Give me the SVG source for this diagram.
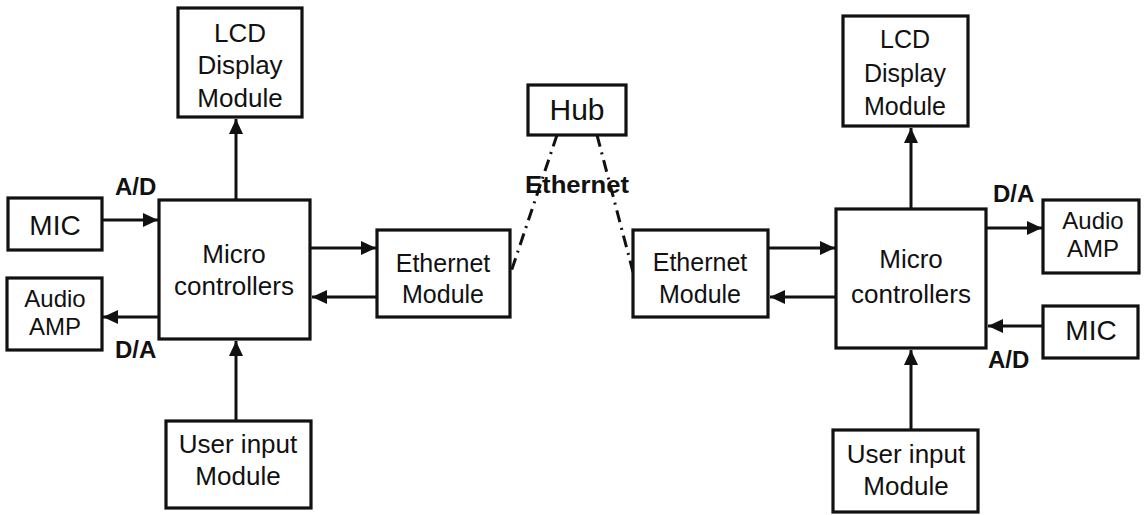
<svg xmlns="http://www.w3.org/2000/svg" width="1144" height="515" viewBox="0 0 1144 515">
  <defs>
    <marker id="arrow" markerUnits="userSpaceOnUse" markerWidth="16" markerHeight="14" refX="15" refY="7" orient="auto">
      <path d="M0,0 L15,7 L0,14 Z" fill="#111"/>
    </marker>
    <style>
      .box { fill: #fff; stroke: #111; stroke-width: 3.2; }
      .t { font-family: "Liberation Sans", Arial, sans-serif; fill: #111; text-anchor: middle; }
      .lbl { font-family: "Liberation Sans", Arial, sans-serif; font-weight: bold; fill: #111; }
      .wire { stroke: #111; stroke-width: 3; fill: none; marker-end: url(#arrow); }
      .net { stroke: #111; stroke-width: 3; fill: none; stroke-dasharray: 12 6 2 6; }
    </style>
  </defs>
  <rect width="1144" height="515" fill="#fff"/>

  <!-- connectors -->
  <g id="connectors">
    <!-- left station -->
    <line class="wire" x1="236" y1="200" x2="236" y2="119"/>
    <line class="wire" x1="102" y1="220" x2="158" y2="220"/>
    <line class="wire" x1="159" y1="317" x2="103" y2="317"/>
    <line class="wire" x1="236" y1="421" x2="236" y2="341"/>
    <line class="wire" x1="310" y1="248" x2="376" y2="248"/>
    <line class="wire" x1="377" y1="297" x2="312" y2="297"/>
    <!-- right station -->
    <line class="wire" x1="911" y1="209" x2="911" y2="128"/>
    <line class="wire" x1="986" y1="228" x2="1042" y2="228"/>
    <line class="wire" x1="1043" y1="326" x2="988" y2="326"/>
    <line class="wire" x1="911" y1="430" x2="911" y2="350"/>
    <line class="wire" x1="768" y1="248" x2="835" y2="248"/>
    <line class="wire" x1="836" y1="297" x2="770" y2="297"/>
    <!-- ethernet links to hub -->
    <line class="net" x1="557" y1="135" x2="511" y2="272"/>
    <line class="net" x1="597" y1="135" x2="633" y2="272"/>
    <text class="lbl" x="577" y="193" font-size="24" text-anchor="middle" textLength="104" lengthAdjust="spacingAndGlyphs">Ethernet</text>
    <text class="lbl" x="115" y="195" font-size="24">A/D</text>
    <text class="lbl" x="115" y="358" font-size="24">D/A</text>
    <text class="lbl" x="993" y="202" font-size="24">D/A</text>
    <text class="lbl" x="988" y="368" font-size="24">A/D</text>
  </g>

  <!-- left station nodes -->
  <g id="lcd-left">
    <rect class="box" x="178" y="8" width="124" height="109"/>
    <text class="t" x="240" y="42" font-size="26">LCD</text>
    <text class="t" x="240" y="74" font-size="26">Display</text>
    <text class="t" x="240" y="107" font-size="26">Module</text>
  </g>
  <g id="mic-left">
    <rect class="box" x="8" y="198" width="94" height="52"/>
    <text class="t" x="55" y="235" font-size="28">MIC</text>
  </g>
  <g id="amp-left">
    <rect class="box" x="7" y="278" width="95" height="72"/>
    <text class="t" x="55" y="307" font-size="24">Audio</text>
    <text class="t" x="55" y="335" font-size="24">AMP</text>
  </g>
  <g id="mcu-left">
    <rect class="box" x="159" y="200" width="151" height="139"/>
    <text class="t" x="234" y="263" font-size="26">Micro</text>
    <text class="t" x="234" y="295" font-size="26">controllers</text>
  </g>
  <g id="input-left">
    <rect class="box" x="166" y="421" width="145" height="87"/>
    <text class="t" x="238" y="453" font-size="26">User input</text>
    <text class="t" x="238" y="485" font-size="26">Module</text>
  </g>
  <g id="eth-left">
    <rect class="box" x="377" y="230" width="133" height="87"/>
    <text class="t" x="443" y="272" font-size="25">Ethernet</text>
    <text class="t" x="443" y="303" font-size="25">Module</text>
  </g>

  <!-- hub -->
  <g id="hub">
    <rect class="box" x="528" y="85" width="98" height="50"/>
    <text class="t" x="577" y="120" font-size="30">Hub</text>
  </g>

  <!-- right station nodes -->
  <g id="eth-right">
    <rect class="box" x="633" y="230" width="135" height="87"/>
    <text class="t" x="700" y="271" font-size="25">Ethernet</text>
    <text class="t" x="700" y="303" font-size="25">Module</text>
  </g>
  <g id="lcd-right">
    <rect class="box" x="843" y="16" width="125" height="110"/>
    <text class="t" x="905" y="48" font-size="25">LCD</text>
    <text class="t" x="905" y="82" font-size="25">Display</text>
    <text class="t" x="905" y="115" font-size="25">Module</text>
  </g>
  <g id="mcu-right">
    <rect class="box" x="836" y="209" width="150" height="139"/>
    <text class="t" x="911" y="268" font-size="26">Micro</text>
    <text class="t" x="911" y="303" font-size="26">controllers</text>
  </g>
  <g id="amp-right">
    <rect class="box" x="1043" y="200" width="96" height="73"/>
    <text class="t" x="1093" y="229" font-size="24">Audio</text>
    <text class="t" x="1093" y="257" font-size="24">AMP</text>
  </g>
  <g id="mic-right">
    <rect class="box" x="1043" y="306" width="95" height="52"/>
    <text class="t" x="1091" y="340" font-size="28">MIC</text>
  </g>
  <g id="input-right">
    <rect class="box" x="833" y="430" width="145" height="82"/>
    <text class="t" x="906" y="463" font-size="26">User input</text>
    <text class="t" x="906" y="495" font-size="26">Module</text>
  </g>
</svg>
